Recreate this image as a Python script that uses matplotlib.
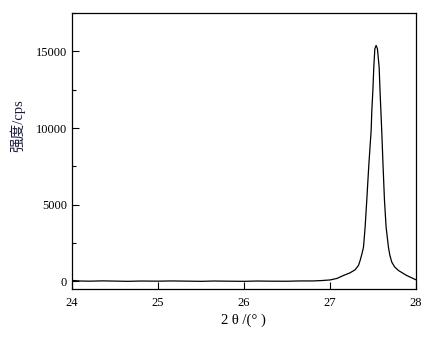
import numpy as np
import matplotlib
matplotlib.use("Agg")
import matplotlib.pyplot as plt
from matplotlib.ticker import MultipleLocator

plt.rcParams['font.family'] = ['Liberation Serif', 'Noto Sans CJK SC', 'DejaVu Sans']

# 2theta (deg) and intensity (cps)
two_theta = [24.0, 24.02, 24.1, 24.2, 24.35, 24.5, 24.65, 24.8, 25.0, 25.15,
             25.3, 25.5, 25.65, 25.8, 26.0, 26.15, 26.3, 26.5, 26.65, 26.8,
             26.9, 27.0, 27.08, 27.155, 27.23, 27.291, 27.33, 27.349, 27.37,
             27.388, 27.407, 27.426, 27.45, 27.477, 27.485, 27.497, 27.508,
             27.52, 27.535, 27.55, 27.57, 27.58, 27.59, 27.6, 27.615, 27.632,
             27.651, 27.678, 27.695, 27.717, 27.75, 27.794, 27.89, 27.99, 28.0]
intensity = [70, 60, 30, 20, 40, 25, 10, 30, 20, 35,
             25, 10, 30, 20, 10, 30, 20, 15, 35, 35,
             60, 100, 200, 391, 560, 763, 1050, 1369, 1800,
             2236, 3540, 5281, 7600, 9845, 11149, 12453, 13972,
             15170, 15387, 15170, 13972, 12453, 11149, 9845, 7600, 5281,
             3540, 2236, 1700, 1260, 950, 717, 391, 130, 110]

fig = plt.figure(figsize=(4.29, 3.43), dpi=100)
ax = fig.add_axes([0.168, 0.157, 0.802, 0.805])

ax.plot(two_theta, intensity, color='black', lw=0.9)

ax.set_xlim(24, 28)
ax.set_ylim(-500, 17500)
ax.xaxis.set_major_locator(MultipleLocator(1))
ax.yaxis.set_major_locator(MultipleLocator(5000))
ax.yaxis.set_minor_locator(MultipleLocator(2500))
ax.tick_params(which='both', direction='in', top=False, right=False,
               labelsize=9, width=0.8)
ax.tick_params(which='major', length=5)
ax.tick_params(which='minor', length=3)
ax.tick_params(axis='x', pad=6)
for s in ax.spines.values():
    s.set_linewidth(0.9)

ax.set_xlabel('2 θ /(° )', fontsize=10.5)
ax.set_ylabel('强度/cps', fontsize=10.5, color='#1a1a40')
ax.xaxis.set_label_coords(0.497, -0.087)
ax.yaxis.set_label_coords(-0.137, 0.594)

fig.savefig('out.png', dpi=100)
